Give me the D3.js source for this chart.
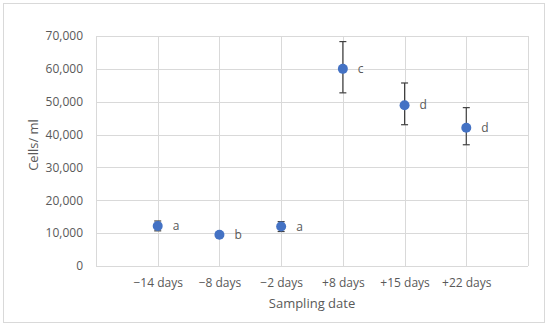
<!DOCTYPE html>
<html>
  <head>
    <meta charset="utf-8">
    <title>Cells per ml by sampling date</title>
    <script src="https://d3js.org/d3.v7.min.js"></script>
    <style>
      body { margin: 0; background: #fff; }
      text { font-family: "Open Sans", "Liberation Sans", sans-serif; fill: #595959; }
    </style>
  </head>
  <body>
    <script>

    var categories = ["\u221214 days", "\u22128 days", "\u22122 days", "+8 days", "+15 days", "+22 days"];
    var cells = [12200, 9500, 12000, 60000, 48900, 42100];
    var errHigh = [13700, 10300, 13500, 68300, 55700, 48200];
    var errLow = [10700, 8700, 10500, 52700, 43000, 36900];
    var groups = ["a", "b", "a", "c", "d", "d"];
    var yTicks = [0, 10000, 20000, 30000, 40000, 50000, 60000, 70000];

    var width = 550, height = 330;
    var margin = {top: 36, right: 22, bottom: 64, left: 96};   // plot area 96..528 x 36..266

    var svg = d3.select("body").append("svg")
                .attr("width", width)
                .attr("height", height);

    // outer chart border
    svg.append("rect")
       .attr("x", 3.5).attr("y", 3.5)
       .attr("width", 541).attr("height", 319)
       .attr("fill", "none")
       .attr("stroke", "#d9d9d9");

    var x = d3.scaleLinear()
              .domain([0, categories.length + 1])
              .range([margin.left, width - margin.right]);

    var y = d3.scaleLinear()
              .domain([0, 70000])
              .range([height - margin.bottom, margin.top]);

    // horizontal gridlines
    svg.append("g")
       .selectAll("line")
       .data(yTicks)
       .enter().append("line")
         .attr("x1", x(0)).attr("x2", x(categories.length + 1))
         .attr("y1", function(d) { return Math.round(y(d)) + 0.5; })
         .attr("y2", function(d) { return Math.round(y(d)) + 0.5; })
         .attr("stroke", "#d9d9d9");

    // vertical gridlines
    svg.append("g")
       .selectAll("line")
       .data(d3.range(0, categories.length + 2))
       .enter().append("line")
         .attr("x1", function(d) { return Math.round(x(d)) + 0.5; })
         .attr("x2", function(d) { return Math.round(x(d)) + 0.5; })
         .attr("y1", y(0)).attr("y2", y(70000))
         .attr("stroke", "#d9d9d9");

    // y axis tick labels
    var fmt = d3.format(",");
    var yAxis = d3.axisLeft(y)
                  .tickValues(yTicks)
                  .tickSize(0)
                  .tickPadding(13)
                  .tickFormat(fmt);
    var gy = svg.append("g")
                .attr("transform", "translate(" + margin.left + ",0)")
                .call(yAxis);
    gy.select(".domain").remove();
    gy.selectAll("text").attr("font-size", 12).style("font-family", null);

    // x axis category labels
    var xAxis = d3.axisBottom(x)
                  .tickValues(d3.range(1, categories.length + 1))
                  .tickSize(0)
                  .tickPadding(12)
                  .tickFormat(function(d) { return categories[d - 1]; });
    var gx = svg.append("g")
                .attr("transform", "translate(0," + y(0) + ")")
                .call(xAxis);
    gx.select(".domain").remove();
    gx.selectAll("text").attr("font-size", 12).style("font-family", null);

    // axis titles
    svg.append("text")
       .attr("x", (x(0) + x(categories.length + 1)) / 2)
       .attr("y", 308)
       .attr("text-anchor", "middle")
       .attr("font-size", 13)
       .text("Sampling date");

    svg.append("text")
       .attr("transform", "translate(38," + ((y(0) + y(70000)) / 2 - 6) + ") rotate(-90)")
       .attr("text-anchor", "middle")
       .attr("font-size", 13)
       .text("Cells/ ml");

    // error bars
    var err = svg.append("g").attr("stroke", "#404040").attr("stroke-width", 1.2);
    categories.forEach(function(c, i) {
      var cx = x(i + 1);
      err.append("line").attr("x1", cx).attr("x2", cx).attr("y1", y(errLow[i])).attr("y2", y(errHigh[i]));
      err.append("line").attr("x1", cx - 3.5).attr("x2", cx + 3.5).attr("y1", y(errLow[i])).attr("y2", y(errLow[i]));
      err.append("line").attr("x1", cx - 3.5).attr("x2", cx + 3.5).attr("y1", y(errHigh[i])).attr("y2", y(errHigh[i]));
    });

    // points
    svg.append("g")
       .selectAll("circle")
       .data(cells)
       .enter().append("circle")
         .attr("cx", function(d, i) { return x(i + 1); })
         .attr("cy", function(d) { return y(d); })
         .attr("r", 5)
         .attr("fill", "#4472c4");

    // significance letters
    svg.append("g")
       .selectAll("text")
       .data(groups)
       .enter().append("text")
         .attr("x", function(d, i) { return x(i + 1) + 15; })
         .attr("y", function(d, i) { return y(cells[i]) + 4; })
         .attr("font-size", 12)
         .text(function(d) { return d; });

    </script>
  </body>
</html>
